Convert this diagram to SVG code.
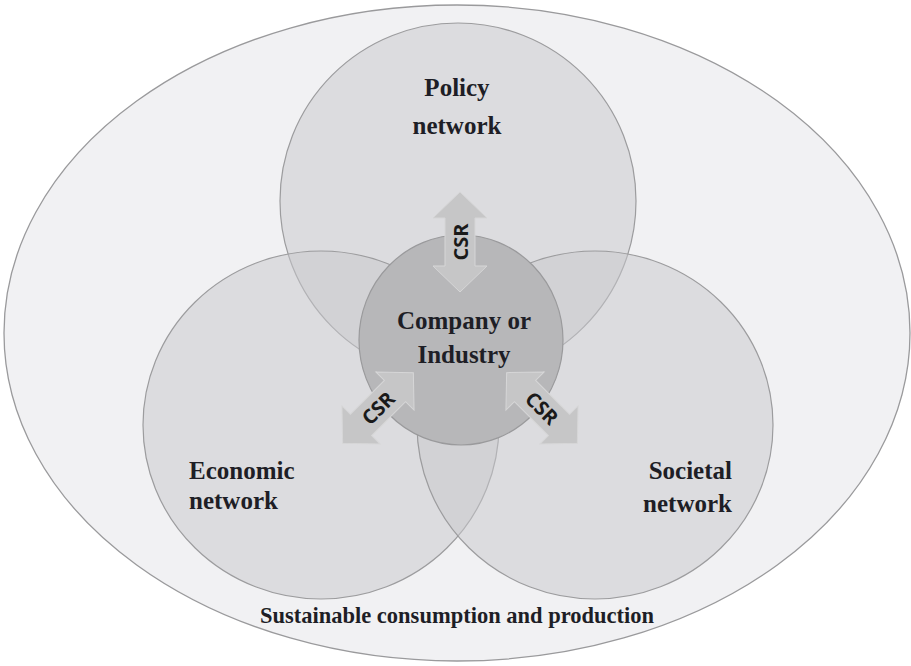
<svg xmlns="http://www.w3.org/2000/svg" width="911" height="666" viewBox="0 0 911 666">
<style>
.lbl{font-family:"Liberation Serif","Times New Roman",serif;font-weight:bold;font-size:25px;fill:#1e1e26}
.net{fill:#c8c8cb;fill-opacity:0.5;stroke:#9c9c9e;stroke-width:1.2}
.csr{font-family:"Open Sans","Liberation Sans",sans-serif;font-weight:bold;font-size:20px;fill:#1a1a1a;text-anchor:middle;dominant-baseline:central}
.arr{fill:#c6c6c7;stroke:#d6d6d7;stroke-width:1}
</style>
<defs>
<path id="dbl" d="M0,-50 L27,-24 L15,-24 L15,24 L27,24 L0,50 L-27,24 L-15,24 L-15,-24 L-27,-24 Z"/>
</defs>
<rect width="911" height="666" fill="#ffffff"/>
<g id="scp">
<ellipse cx="457" cy="333" rx="453" ry="328" fill="#f1f1f3" stroke="#9a9a9c" stroke-width="1.3"/>
<text class="lbl" x="457" y="623" text-anchor="middle" style="font-size:22.5px">Sustainable consumption and production</text>
</g>
<g id="policy">
<circle class="net" cx="458" cy="201" r="178"/>
<text class="lbl" x="457" y="96" text-anchor="middle">Policy</text>
<text class="lbl" x="457" y="134" text-anchor="middle">network</text>
</g>
<g id="economic">
<ellipse class="net" cx="321" cy="425" rx="178" ry="174"/>
<text class="lbl" x="189" y="479">Economic</text>
<text class="lbl" x="189" y="509">network</text>
</g>
<g id="societal">
<ellipse class="net" cx="595" cy="425" rx="178" ry="174"/>
<text class="lbl" x="732" y="479" text-anchor="end">Societal</text>
<text class="lbl" x="732" y="512" text-anchor="end">network</text>
</g>
<g id="company">
<ellipse cx="461" cy="340" rx="102" ry="105" fill="#b7b7b9" stroke="#9a9a9c" stroke-width="1.2"/>
<text class="lbl" x="464" y="329" text-anchor="middle">Company or</text>
<text class="lbl" x="464" y="363" text-anchor="middle">Industry</text>
</g>
<g id="connectors">
<g transform="translate(460,242)"><use href="#dbl" class="arr"/><text class="csr" transform="rotate(-90)">CSR</text></g>
<g transform="translate(378,408) rotate(45)"><use href="#dbl" class="arr"/><text class="csr" transform="rotate(-90)">CSR</text></g>
<g transform="translate(542,408) rotate(-45)"><use href="#dbl" class="arr"/><text class="csr" transform="rotate(90)">CSR</text></g>
</g>
</svg>
